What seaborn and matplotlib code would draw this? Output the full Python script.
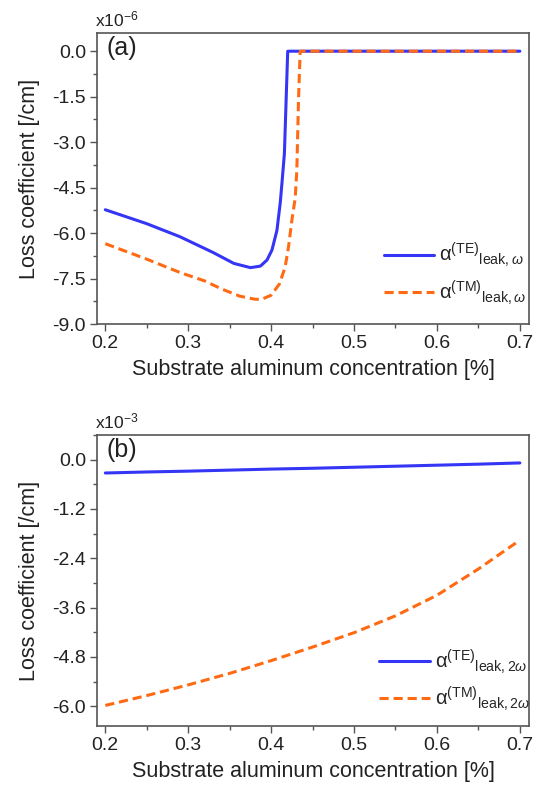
import matplotlib
matplotlib.use('Agg')
import matplotlib.pyplot as plt
import numpy as np
import pandas as pd
import seaborn as sns
from matplotlib.ticker import MultipleLocator, FuncFormatter

sns.set_theme(style='ticks')
plt.rcParams['font.family'] = ['Liberation Sans', 'DejaVu Sans']
plt.rcParams['mathtext.fontset'] = 'custom'
plt.rcParams['mathtext.rm'] = 'Liberation Sans'
plt.rcParams['mathtext.it'] = 'Liberation Sans:italic'

# =========================
# DATA
# =========================
# panel (a), x1e-6 /cm
a_te_x = [0.20, 0.25, 0.29, 0.33, 0.355, 0.375, 0.387, 0.395, 0.401, 0.407, 0.411, 0.413,
          0.416, 0.420, 0.50, 0.60, 0.70]
a_te_y = [-5.23, -5.69, -6.12, -6.64, -7.00, -7.14, -7.09, -6.89, -6.56, -5.91, -5.00, -4.37,
          -3.38, 0.0, 0.0, 0.0, 0.0]
a_tm_x = [0.20, 0.25, 0.29, 0.32, 0.34, 0.362, 0.38, 0.388, 0.40, 0.41, 0.417, 0.421,
          0.425, 0.429, 0.431, 0.433, 0.435, 0.50, 0.60, 0.70]
a_tm_y = [-6.35, -6.86, -7.30, -7.58, -7.84, -8.08, -8.18, -8.19, -8.05, -7.68, -7.11, -6.45,
          -5.58, -4.85, -3.94, -1.64, 0.0, 0.0, 0.0, 0.0]

# panel (b), x1e-3 /cm
b_x = [0.20, 0.25, 0.30, 0.35, 0.40, 0.45, 0.50, 0.55, 0.60, 0.65, 0.70]
b_te_y = [-0.325, -0.30, -0.28, -0.255, -0.23, -0.21, -0.185, -0.16, -0.135, -0.11, -0.08]
b_tm_y = [-5.98, -5.74, -5.48, -5.20, -4.89, -4.56, -4.21, -3.80, -3.30, -2.66, -1.96]

x_ticks = [0.2, 0.3, 0.4, 0.5, 0.6, 0.7]

BLUE = '#3535F5'
ORANGE = '#FF6A13'
SPINE = '#555555'
TEXT = '#222222'

fig = plt.figure(figsize=(5.39, 7.88), dpi=100)
ax_a = fig.add_axes([0.18, 0.5888, 0.8014, 0.3693])
ax_b = fig.add_axes([0.18, 0.0787, 0.8014, 0.3693])


def _fmt(v, pos):
    if abs(v) < 1e-9:
        v = 0.0
    return f'{v:.1f}'


def style_axis(ax, ylim, major, minor, mult, tag):
    ax.set_xlim(0.19, 0.711)
    ax.set_ylim(*ylim)
    ax.set_xticks(x_ticks)
    ax.xaxis.set_minor_locator(MultipleLocator(0.05))
    ax.yaxis.set_major_locator(MultipleLocator(major))
    ax.yaxis.set_minor_locator(MultipleLocator(minor))
    ax.yaxis.set_major_formatter(FuncFormatter(_fmt))
    ax.tick_params(which='major', direction='out', length=5, width=1, color=SPINE,
                   labelsize=14, labelcolor=TEXT, pad=3)
    ax.tick_params(which='minor', direction='out', length=3, width=1, color=SPINE)
    for s in ax.spines.values():
        s.set_color(SPINE)
        s.set_linewidth(1.2)
    ax.set_xlabel('Substrate aluminum concentration [%]', fontsize=15.5, color=TEXT, labelpad=5)
    ax.set_ylabel('Loss coefficient [/cm]', fontsize=15.5, color=TEXT, labelpad=9)
    ax.text(-0.005, 1.012, mult, transform=ax.transAxes, ha='left', va='bottom',
            fontsize=12.5, color=TEXT)
    ax.text(0.022, 0.99, tag, transform=ax.transAxes, ha='left', va='top',
            fontsize=18, color=TEXT)


# panel (a)
sns.lineplot(x=a_te_x, y=a_te_y, ax=ax_a, color=BLUE, lw=2.2, sort=False,
             label=r'α$^{(\mathrm{TE})}{}_{\mathrm{leak},\omega}$')
sns.lineplot(x=a_tm_x, y=a_tm_y, ax=ax_a, color=ORANGE, lw=2.2, sort=False,
             dashes=False, linestyle=(0, (3, 1.6)),
             label=r'α$^{(\mathrm{TM})}{}_{\mathrm{leak},\omega}$')
style_axis(ax_a, (-9.0, 0.6), 1.5, 0.75, r'x10$^{-6}$', '(a)')

# panel (b)
sns.lineplot(x=b_x, y=b_te_y, ax=ax_b, color=BLUE, lw=2.2, sort=False,
             label=r'α$^{(\mathrm{TE})}{}_{\mathrm{leak},2\omega}$')
sns.lineplot(x=b_x, y=b_tm_y, ax=ax_b, color=ORANGE, lw=2.2, sort=False,
             dashes=False, linestyle=(0, (3, 1.6)),
             label=r'α$^{(\mathrm{TM})}{}_{\mathrm{leak},2\omega}$')
style_axis(ax_b, (-6.48, 0.6), 1.2, 0.6, r'x10$^{-3}$', '(b)')

for ax, anchor in [(ax_a, (0.645, 0.172)), (ax_b, (0.635, 0.157))]:
    ax.legend(loc='center left', bbox_to_anchor=anchor, frameon=False, fontsize=14.5,
              handlelength=2.5, handletextpad=0.25, labelspacing=0.45, borderaxespad=0)

fig.savefig('out.png', dpi=100)
